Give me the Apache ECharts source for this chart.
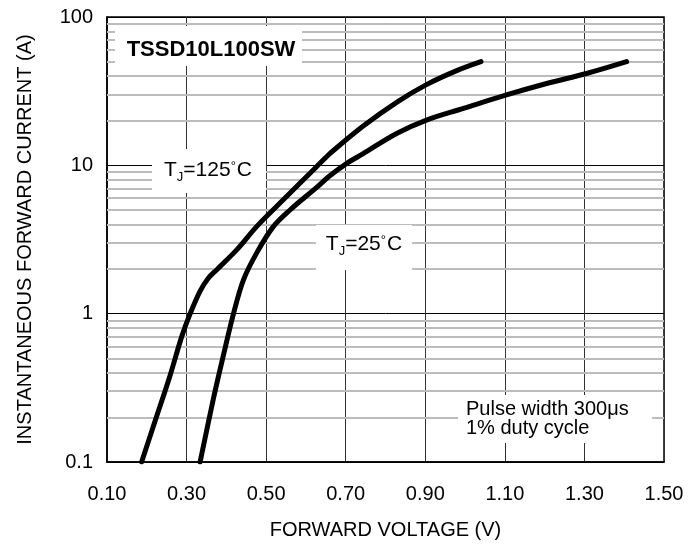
<!DOCTYPE html>
<html>
<head>
<meta charset="utf-8">
<script src="https://cdn.jsdelivr.net/npm/echarts@6/dist/echarts.min.js"></script>
<style>
html,body{margin:0;padding:0;background:#fff;}
#chart{width:700px;height:545px;}
</style>
</head>
<body>
<div id="chart"></div>
<script>
// ---- data ----
var v125 = [0.187,0.225,0.258,0.288,0.309,0.334,0.355,0.376,0.426,0.476,0.526,0.593,0.644,0.660,0.744,0.828,0.903,0.979,1.040];
var i125 = [0.1,0.204,0.379,0.703,1.0,1.42,1.74,1.98,2.69,3.86,5.27,7.96,10.9,12.0,18.4,26.6,35.0,43.5,50];
var v25 = [0.334,0.367,0.392,0.418,0.443,0.476,0.518,0.560,0.627,0.660,0.700,0.744,0.828,0.903,0.996,1.102,1.205,1.305,1.406];
var i25 = [0.1,0.264,0.516,1.0,1.69,2.56,3.86,5.0,7.1,8.5,10.2,12.0,16.4,20.2,24.2,29.7,35.6,41.6,50];
var xTickLabels = ['0.10','0.30','0.50','0.70','0.90','1.10','1.30','1.50'];
var yTickLabels = ['0.1','1','10','100'];
var yMinorLines = [0.2,0.3,0.4,0.5,0.6,0.7,0.8,0.9,2,3,4,5,6,7,8,9,20,30,40,50,60,70,80,90];

var FONT = '"Liberation Sans", Arial, sans-serif';

function pairs(xs, ys){ return xs.map(function(x,i){ return [x, ys[i]]; }); }

var chart = echarts.init(document.getElementById('chart'), null, {renderer:'canvas'});
var option = {
  animation: false,
  backgroundColor: '#fff',
  grid: { left: 107, right: 36, top: 17, bottom: 82, show: true, borderColor: '#000', borderWidth: 1.5, backgroundColor: 'transparent' },
  xAxis: {
    type: 'value', min: 0.1, max: 1.5, interval: 0.2,
    name: 'FORWARD VOLTAGE (V)', nameLocation: 'middle', nameGap: 58,
    nameTextStyle: { fontFamily: FONT, fontSize: 20, color: '#000' },
    axisLine: { show: true, lineStyle: { color: '#000', width: 1.5 } },
    axisTick: { show: false },
    axisLabel: { fontFamily: FONT, fontSize: 20, color: '#000', margin: 22,
      formatter: function(v){ var k = Math.round((v-0.1)/0.2); return xTickLabels[k] !== undefined ? xTickLabels[k] : ''; } },
    splitLine: { show: true, lineStyle: { color: '#333', width: 1 } }
  },
  yAxis: {
    type: 'log', logBase: 10, min: 0.1, max: 100,
    name: 'INSTANTANEOUS FORWARD CURRENT (A)', nameLocation: 'middle', nameGap: 72,
    nameTextStyle: { fontFamily: FONT, fontSize: 20, color: '#000' },
    axisLine: { show: true, lineStyle: { color: '#000', width: 1.5 } },
    axisTick: { show: false },
    axisLabel: { fontFamily: FONT, fontSize: 20, color: '#000', margin: 14,
      formatter: function(v){ var k = Math.round(Math.log10(v)) + 1; return yTickLabels[k] !== undefined ? yTickLabels[k] : ''; } },
    splitLine: { show: true, lineStyle: { color: '#000', width: 1 } }
  },
  series: [
    {
      type: 'line', data: [], z: 1, silent: true,
      markLine: {
        silent: true, symbol: 'none', animation: false,
        label: { show: false },
        lineStyle: { color: '#bcbcbc', width: 2, type: 'solid' },
        data: yMinorLines.map(function(y){ return { yAxis: y }; })
      }
    },
    {
      name: 'TJ=125', type: 'line', data: pairs(v125, i125), smooth: 0.35, showSymbol: false, z: 5,
      lineStyle: { color: '#000', width: 5, cap: 'round', join: 'round' }
    },
    {
      name: 'TJ=25', type: 'line', data: pairs(v25, i25), smooth: 0.35, showSymbol: false, z: 5,
      lineStyle: { color: '#000', width: 5, cap: 'round', join: 'round' }
    }
  ],
  graphic: [
    { type: 'rect', z: 100, shape: { x: 115, y: 26, width: 187, height: 40 }, style: { fill: '#fff' } },
    { type: 'text', z: 101, x: 211, y: 50, style: { text: 'TSSD10L100SW', font: 'bold 22px ' + FONT, fill: '#000', align: 'center', verticalAlign: 'middle' } },
    { type: 'rect', z: 100, shape: { x: 152, y: 149, width: 114, height: 44 }, style: { fill: '#fff' } },
    { type: 'text', z: 101, x: 208, y: 170, style: {
        text: '{t|T}{s|J}{t|=125}{d|°}{t|C}', align: 'center', verticalAlign: 'middle',
        rich: { t: { fontFamily: FONT, fontSize: 21, color: '#000' },
                s: { fontFamily: FONT, fontSize: 13, color: '#000', padding: [14,0,0,0] },
                d: { fontFamily: FONT, fontSize: 13, color: '#000', padding: [0,1,8,0] } } } },
    { type: 'rect', z: 100, shape: { x: 316, y: 225, width: 96, height: 45 }, style: { fill: '#fff' } },
    { type: 'text', z: 101, x: 364, y: 244, style: {
        text: '{t|T}{s|J}{t|=25}{d|°}{t|C}', align: 'center', verticalAlign: 'middle',
        rich: { t: { fontFamily: FONT, fontSize: 21, color: '#000' },
                s: { fontFamily: FONT, fontSize: 13, color: '#000', padding: [14,0,0,0] },
                d: { fontFamily: FONT, fontSize: 13, color: '#000', padding: [0,1,8,0] } } } },
    { type: 'rect', z: 100, shape: { x: 458, y: 395, width: 194, height: 48 }, style: { fill: '#fff' } },
    { type: 'text', z: 101, x: 466, y: 419, style: {
        text: 'Pulse width 300μs\n1% duty cycle', font: '20px ' + FONT, fill: '#000',
        align: 'left', verticalAlign: 'middle', lineHeight: 19 } }
  ]
};
chart.setOption(option);
</script>
</body>
</html>
